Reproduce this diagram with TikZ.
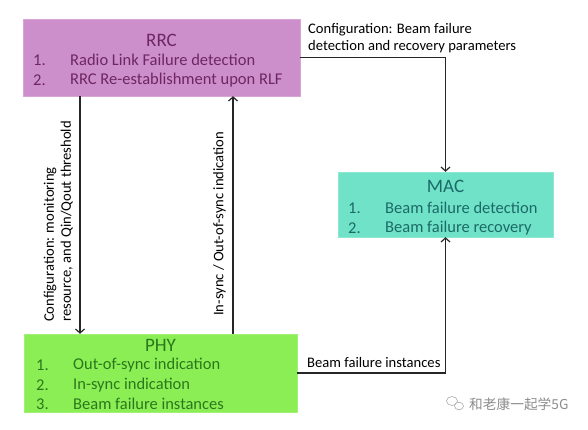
\documentclass[tikz,border=0pt]{standalone}
\usepackage{fontspec}
\setmainfont{Carlito}
\newfontfamily\cjk{Noto Sans CJK SC}
\usetikzlibrary{arrows.meta,positioning}
\definecolor{rrcfill}{HTML}{CC8FCC}
\definecolor{rrctext}{HTML}{6E2760}
\definecolor{macfill}{HTML}{70E2C8}
\definecolor{mactext}{HTML}{1B6A68}
\definecolor{phyfill}{HTML}{8BEE55}
\definecolor{phytext}{HTML}{2A781C}
\begin{document}
\begin{tikzpicture}[x=1pt,y=-1pt,
    layerbox/.style={inner sep=0pt,minimum width=#1},
    title/.style={font=\fontsize{19}{21}\selectfont},
    item/.style={anchor=west,inner sep=0pt,font=\fontsize{16.5}{18}\selectfont},
    lbl/.style={inner sep=0pt,font=\fontsize{14.6}{17}\selectfont,align=left},
    arr/.style={line width=1.2pt,draw=black!85,-{Straight Barb[length=4pt,width=9pt]}}]
    \useasboundingbox (0,0) rectangle (588,430);
    % layers
    \node[layerbox=277pt,minimum height=77pt,fill=rrcfill,draw=rrcfill!80] (rrc) at (161.5,57.5) {};
    \node[layerbox=215pt,minimum height=65pt,fill=macfill,draw=macfill!80] (mac) at (445.5,204.5) {};
    \node[layerbox=273pt,minimum height=78pt,fill=phyfill,draw=phyfill!80] (phy) at (160.5,373) {};
    % texts
    \node[title,text=rrctext] (rrct) at (161.5,40) {RRC};
    \node[item,text=rrctext] (rrc1n) at (33,60) {1.};
    \node[item,text=rrctext] (rrc1) at (70,60) {Radio Link Failure detection};
    \node[item,text=rrctext] (rrc2n) at (33,80) {2.};
    \node[item,text=rrctext] (rrc2) at (70,80) {RRC Re-establishment upon RLF};
    \node[title,text=mactext] (mact) at (445.5,186) {MAC};
    \node[item,text=mactext] (mac1n) at (348,208) {1.};
    \node[item,text=mactext] (mac1) at (385,208) {Beam failure detection};
    \node[item,text=mactext] (mac2n) at (348,228) {2.};
    \node[item,text=mactext] (mac2) at (385,228) {Beam failure recovery};
    \node[title,text=phytext] (phyt) at (160.5,345) {PHY};
    \node[item,text=phytext] (phy1n) at (36,365) {1.};
    \node[item,text=phytext] (phy1) at (73,365) {Out-of-sync indication};
    \node[item,text=phytext] (phy2n) at (36,385) {2.};
    \node[item,text=phytext] (phy2) at (73,385) {In-sync indication};
    \node[item,text=phytext] (phy3n) at (36,404) {3.};
    \node[item,text=phytext] (phy3) at (73,404) {Beam failure instances};
    % connectors
    \coordinate (down) at (80,0);
    \coordinate (up) at (233,0);
    \draw[arr] (rrc.south -| down) -- (phy.north -| down);
    \draw[arr] (phy.north -| up) -- (rrc.south -| up);
    \draw[arr] (rrc.east) -| (mac.north);
    \draw[arr] (phy.east) -| (mac.south);
    % labels
    \node[lbl,rotate=90,anchor=south west] (cfgl) at (73,322) {Configuration: monitoring\\resource, and Qin/Qout threshold};
    \node[lbl,rotate=90,anchor=south west] (syncl) at (226,316) {In-sync / Out-of-sync indication};
    \node[lbl,anchor=south west] (cfgr) at (308,53) {Configuration: Beam failure\\detection and recovery parameters};
    \node[lbl,anchor=south west] (bfi) at (307,368) {Beam failure instances};
    % watermark
    \node[anchor=west,inner sep=0pt,text=black!45,font=\cjk\fontsize{13.7}{15}\selectfont] (wm) at (469,404) {和老康一起学5G};
    \draw[black!35,line width=0.6pt] (452,401) ellipse (5.5pt and 4.5pt);
    \draw[black!35,line width=0.6pt,fill=white] (459,406) ellipse (4.5pt and 3.8pt);
\end{tikzpicture}
\end{document}
